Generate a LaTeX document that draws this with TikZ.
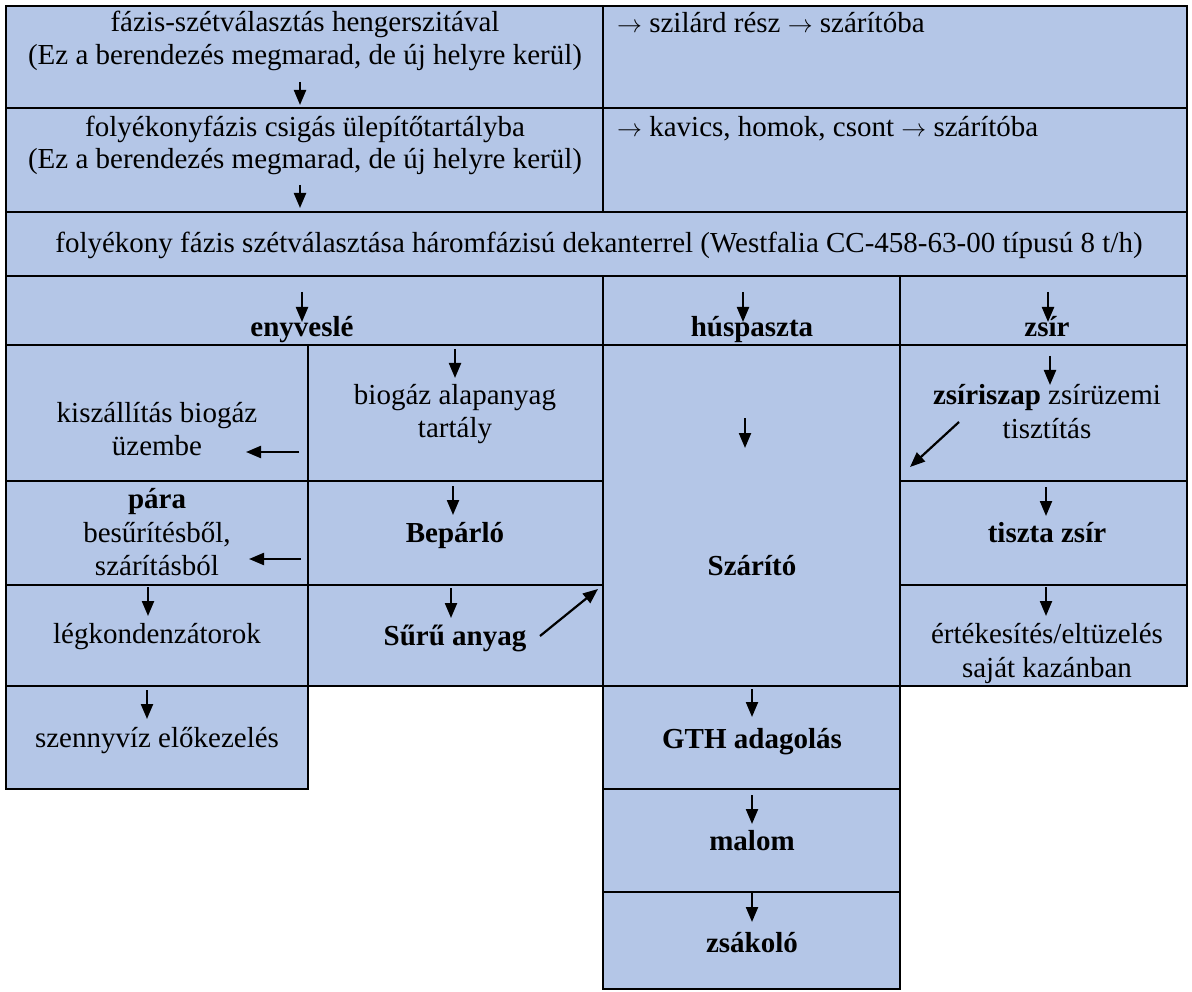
\documentclass[tikz,border=0pt]{standalone}
\usepackage{fontspec}
\setmainfont{Liberation Serif}
\usetikzlibrary{arrows.meta}
\definecolor{cellblue}{RGB}{180,198,231}
\newcommand\mydarrow[4]{\coordinate (#1s) at (#2,#3); \coordinate (#1e) at (#2,#4); \draw[arr] (#1s) -- (#1e);}
\begin{document}
\begin{tikzpicture}[x=1pt,y=-1pt,
  cell/.style={fill=cellblue,draw=black,line width=2.6pt},
  txt/.style={anchor=base,inner sep=0pt,font=\fontsize{29}{33}\selectfont},
  btxt/.style={txt,font=\fontsize{29}{33}\selectfont\bfseries},
  ltxt/.style={txt,anchor=base west},
  arr/.style={line width=2.2pt,-{Triangle[length=15pt,width=12pt]}}]
\useasboundingbox (0,0) rectangle (1192,992);
% cells
\draw[cell] (6,6) rectangle (603,108);
\draw[cell] (603,6) rectangle (1187,108);
\draw[cell] (6,108) rectangle (603,212);
\draw[cell] (603,108) rectangle (1187,212);
\draw[cell] (6,212) rectangle (1187,276);
\draw[cell] (6,276) rectangle (603,345);
\draw[cell] (603,276) rectangle (900,345);
\draw[cell] (900,276) rectangle (1187,345);
\draw[cell] (6,345) rectangle (308,481);
\draw[cell] (308,345) rectangle (603,481);
\draw[cell] (603,345) rectangle (900,686);
\draw[cell] (900,345) rectangle (1187,481);
\draw[cell] (6,481) rectangle (308,585);
\draw[cell] (308,481) rectangle (603,585);
\draw[cell] (900,481) rectangle (1187,585);
\draw[cell] (6,585) rectangle (308,686);
\draw[cell] (308,585) rectangle (603,686);
\draw[cell] (900,585) rectangle (1187,686);
\draw[cell] (6,686) rectangle (308,789);
\draw[cell] (603,686) rectangle (900,789);
\draw[cell] (603,789) rectangle (900,892);
\draw[cell] (603,892) rectangle (900,989);
% texts
\node[txt] (t1a) at (305,32) {fázis-szétválasztás hengerszitával};
\node[txt] (t1b) at (305,65) {(Ez a berendezés megmarad, de új helyre kerül)};
\node[ltxt] (t1r) at (617,33) {$\rightarrow$ szilárd rész $\rightarrow$ szárítóba};
\node[txt] (t2a) at (305,137) {folyékonyfázis csigás ülepítőtartályba};
\node[txt] (t2b) at (305,169) {(Ez a berendezés megmarad, de új helyre kerül)};
\node[ltxt] (t2r) at (617,137) {$\rightarrow$ kavics, homok, csont $\rightarrow$ szárítóba};
\node[txt] (t3) at (599,253) {folyékony fázis szétválasztása háromfázisú dekanterrel (Westfalia CC-458-63-00 típusú 8 t/h)};
\node[btxt] (eny) at (302,337) {enyveslé};
\node[btxt] (husp) at (752,337) {húspaszta};
\node[btxt] (zsir) at (1047,337) {zsír};
\node[txt] (kisz1) at (157,422) {kiszállítás biogáz};
\node[txt] (kisz2) at (157,455) {üzembe};
\node[txt] (bio1) at (455,404) {biogáz alapanyag};
\node[txt] (bio2) at (455,437) {tartály};
\node[txt] (zsi1) at (1047,404) {\textbf{zsíriszap} zsírüzemi};
\node[txt] (zsi2) at (1047,438) {tisztítás};
\node[btxt] (para) at (157,508) {pára};
\node[txt] (para2) at (157,542) {besűrítésből,};
\node[txt] (para3) at (157,575) {szárításból};
\node[btxt] (bep) at (455,542) {Bepárló};
\node[btxt] (szar) at (752,575) {Szárító};
\node[btxt] (tisz) at (1047,542) {tiszta zsír};
\node[txt] (legk) at (157,643) {légkondenzátorok};
\node[btxt] (suru) at (455,645) {Sűrű anyag};
\node[txt] (ert1) at (1047,643) {értékesítés/eltüzelés};
\node[txt] (ert2) at (1047,677) {saját kazánban};
\node[txt] (szen) at (157,747) {szennyvíz előkezelés};
\node[btxt] (gth) at (752,748) {GTH adagolás};
\node[btxt] (malom) at (752,850) {malom};
\node[btxt] (zsak) at (752,952) {zsákoló};
% arrows
\mydarrow{a1}{300}{82}{105}
\mydarrow{a2}{300}{185}{208}
\mydarrow{a3}{302}{292}{322}
\mydarrow{a4}{743}{292}{322}
\mydarrow{a5}{1048}{292}{322}
\mydarrow{a6}{455}{349}{378}
\mydarrow{a7}{745}{418}{448}
\mydarrow{a8}{1050}{356}{385}
\mydarrow{a9}{453}{486}{515}
\mydarrow{a10}{1046}{487}{516}
\mydarrow{a11}{148}{587}{616}
\mydarrow{a12}{451}{588}{618}
\mydarrow{a13}{1046}{587}{616}
\mydarrow{a14}{147}{690}{719}
\mydarrow{a15}{752}{689}{717}
\mydarrow{a16}{752}{795}{824}
\mydarrow{a17}{752}{893}{922}
\coordinate (h1s) at (299,452); \coordinate (h1e) at (246,452);
\draw[arr] (h1s) -- (h1e);
\coordinate (h2s) at (301,559); \coordinate (h2e) at (249,559);
\draw[arr] (h2s) -- (h2e);
\coordinate (d1s) at (959,422); \coordinate (d1e) at (910,467);
\draw[arr] (d1s) -- (d1e);
\coordinate (d2s) at (540,636); \coordinate (d2e) at (598,589);
\draw[arr] (d2s) -- (d2e);
\end{tikzpicture}
\end{document}
